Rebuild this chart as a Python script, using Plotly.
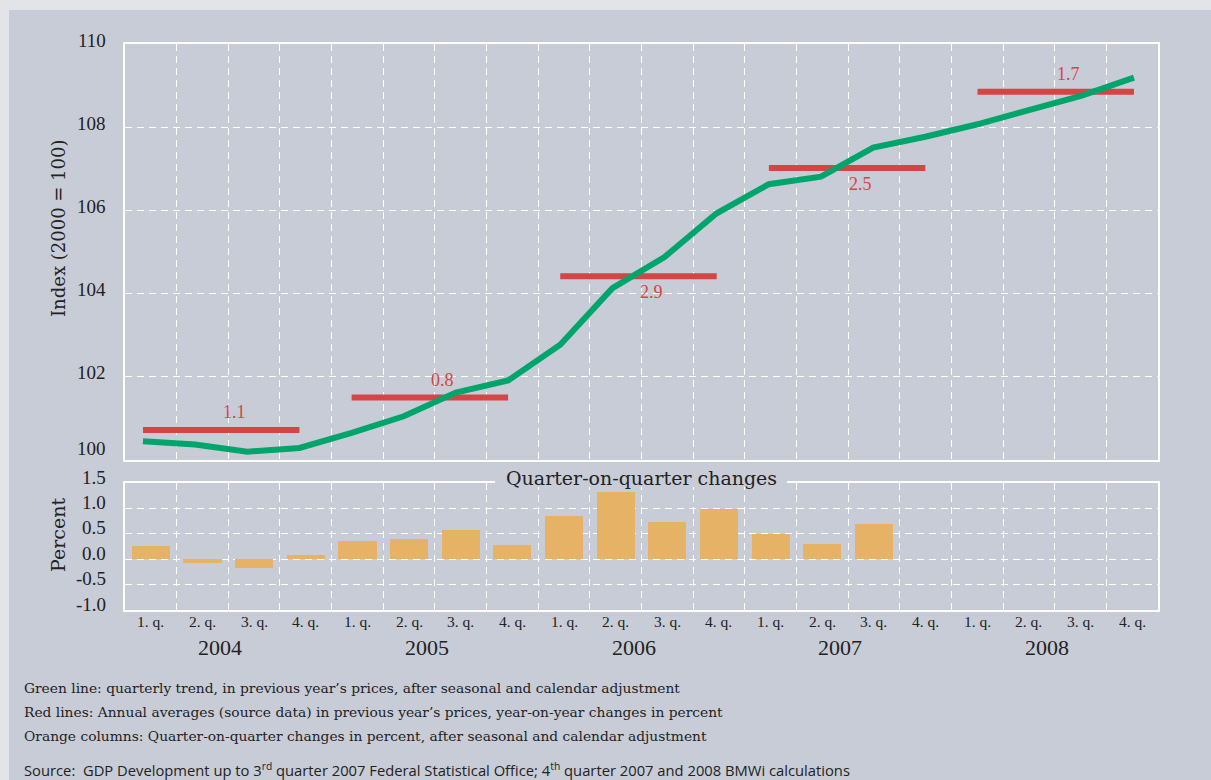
import plotly.graph_objects as go

# ---- data -------------------------------------------------------------
years = ["2004", "2005", "2006", "2007", "2008"]
quarters = ["1. q.", "2. q.", "3. q.", "4. q."]

# quarterly trend index (2000 = 100), 2004 Q1 .. 2008 Q4
trend_index = [100.45, 100.37, 100.20, 100.29,
               100.65, 101.05, 101.62, 101.91,
               102.77, 104.13, 104.88, 105.93,
               106.63, 106.81, 107.51, 107.77,
               108.07, 108.40, 108.76, 109.19]

# annual averages (index level) and year-on-year change labels
annual_avg_index = [100.72, 101.50, 104.42, 107.02, 108.85]
annual_change = ["1.1", "0.8", "2.9", "2.5", "1.7"]

# quarter-on-quarter changes in percent, 2004 Q1 .. 2007 Q3
qoq_change = [0.26, -0.08, -0.17, 0.08,
              0.36, 0.39, 0.57, 0.28,
              0.85, 1.32, 0.73, 0.99,
              0.49, 0.30, 0.69]

index_ticks = [100, 102, 104, 106, 108, 110]
pct_ticks = [-1.0, -0.5, 0.0, 0.5, 1.0, 1.5]
pct_tick_text = ["-1.0", "-0.5", "0.0", "0.5", "1.0", "1.5"]

footnotes = [
    "Green line: quarterly trend, in previous year’s prices, after seasonal and calendar adjustment",
    "Red lines: Annual averages (source data) in previous year’s prices, year-on-year changes in percent",
    "Orange columns: Quarter-on-quarter changes in percent, after seasonal and calendar adjustment",
]
source_note = ("Source:  GDP Development up to 3<sup>rd</sup> quarter 2007 Federal Statistical Office; "
               "4<sup>th</sup> quarter 2007 and 2008 BMWi calculations")

# ---- styling ----------------------------------------------------------
W, H = 1211, 780
PANEL = "#c8ccd7"
FRAME = "#e3e4e8"
GREEN = "#00a56b"
RED = "#d44546"
ORANGE = "#e6b266"
TEXT = "#222222"
SERIF = "Liberation Serif, DejaVu Serif, serif"
WIDE_SERIF = "DejaVu Serif, Liberation Serif, serif"
SANS = "Open Sans, DejaVu Sans, sans-serif"

n_q = len(years) * len(quarters)
q_pos = list(range(n_q))
bounds = [i + 0.5 for i in range(n_q - 1)]
x_dom = [125 / W, 1158 / W]
top_dom = [1 - 460 / H, 1 - 44 / H]
bot_dom = [1 - 610 / H, 1 - 483 / H]

fig = go.Figure()

# empty trace so the base top subplot (grid and frame) is created
fig.add_trace(go.Scatter(x=[None], y=[None], xaxis="x", yaxis="y",
                         showlegend=False, hoverinfo="skip"))

# annual average segments (one per year, 4 quarters wide)
for k, lvl in enumerate(annual_avg_index):
    fig.add_trace(go.Scatter(
        x=[4 * k, 4 * k + 3], y=[lvl, lvl], mode="lines",
        line=dict(color=RED, width=6), xaxis="x3", yaxis="y",
        hoverinfo="skip", showlegend=False))

# quarterly trend line
fig.add_trace(go.Scatter(
    x=q_pos, y=trend_index, mode="lines",
    line=dict(color=GREEN, width=6), xaxis="x3", yaxis="y",
    showlegend=False))

# quarter-on-quarter columns
fig.add_trace(go.Bar(
    x=q_pos[:len(qoq_change)], y=qoq_change, width=0.74,
    marker=dict(color=ORANGE, line=dict(width=0)),
    xaxis="x2", yaxis="y2", showlegend=False))

grid_dash = "7px,5px"
common_x = dict(
    domain=x_dom, range=[-0.5, n_q - 0.5], showgrid=False, zeroline=False,
    showline=True, linecolor="white", linewidth=2, mirror=True,
    showticklabels=False, ticks="",
    minor=dict(tickvals=bounds, showgrid=True, gridcolor="white",
               gridwidth=1, griddash=grid_dash, ticklen=0),
)
fig.update_layout(
    width=W, height=H,
    margin=dict(l=0, r=0, t=0, b=0),
    paper_bgcolor=PANEL, plot_bgcolor=PANEL,
    bargap=0,
    xaxis=dict(**common_x, anchor="y"),
    xaxis2=dict(**common_x, anchor="y2"),
    xaxis3=dict(overlaying="x", anchor="y", domain=x_dom,
                range=[-0.345, 19.461], visible=False),
    yaxis=dict(domain=top_dom, range=[100, 110], tickvals=index_ticks,
               showticklabels=False, ticks="", showgrid=True,
               gridcolor="white", gridwidth=1, griddash=grid_dash,
               zeroline=False, showline=True, linecolor="white",
               linewidth=2, mirror=True),
    yaxis2=dict(domain=bot_dom, range=[-1.0, 1.5], tickvals=pct_ticks,
                showticklabels=False, ticks="", showgrid=True,
                gridcolor="white", gridwidth=1, griddash=grid_dash,
                zeroline=False, showline=True, linecolor="white",
                linewidth=2, mirror=True),
)

ann = []
# y tick labels (drawn slightly raised above their grid lines)
for v in index_ticks:
    ann.append(dict(x=108 / W, xref="paper", y=v, yref="y", text=str(v),
                    xanchor="right", yanchor="middle", showarrow=False,
                    yshift=12 if v == index_ticks[0] else 4,
                    font=dict(family=SERIF, size=19, color=TEXT)))
for v, t in zip(pct_ticks, pct_tick_text):
    ann.append(dict(x=108 / W, xref="paper", y=v, yref="y2", text=t,
                    xanchor="right", yanchor="middle", showarrow=False,
                    yshift=6, font=dict(family=SERIF, size=19, color=TEXT)))

# quarter labels under the lower panel
for i in q_pos:
    ann.append(dict(x=i, xref="x2", y=1 - 621 / H, yref="paper",
                    text=quarters[i % len(quarters)], showarrow=False,
                    xanchor="center", yanchor="middle",
                    font=dict(family=SERIF, size=15.5, color=TEXT)))

# axis titles
ann.append(dict(x=58 / W, xref="paper", y=1 - 228 / H, yref="paper",
                text="Index (2000 = 100)", textangle=-90, showarrow=False,
                xanchor="center", yanchor="middle",
                font=dict(family=WIDE_SERIF, size=18, color=TEXT)))
ann.append(dict(x=58 / W, xref="paper", y=1 - 535 / H, yref="paper",
                text="Percent", textangle=-90, showarrow=False,
                xanchor="center", yanchor="middle",
                font=dict(family=WIDE_SERIF, size=19, color=TEXT)))

# year labels under each group of quarters
for k, yr in enumerate(years):
    ann.append(dict(x=4 * k + 1.5, xref="x2", y=1 - 647 / H, yref="paper",
                    text=yr, showarrow=False, xshift=-8,
                    xanchor="center", yanchor="middle",
                    font=dict(family=SERIF, size=22, color=TEXT)))

# annual change labels on the red segments
label_above = [True, True, False, False, True]
for k, (lvl, txt) in enumerate(zip(annual_avg_index, annual_change)):
    up = label_above[k]
    ann.append(dict(x=4 * k + 1.75, xref="x3", y=lvl, yref="y", text=txt,
                    showarrow=False, yshift=18 if up else -16,
                    xanchor="center", yanchor="middle",
                    font=dict(family=SERIF, size=18, color=RED)))

# lower panel heading
ann.append(dict(x=0.5 * (x_dom[0] + x_dom[1]), xref="paper", y=1 - 478 / H,
                yref="paper", text="Quarter-on-quarter changes",
                xanchor="center", yanchor="middle", showarrow=False,
                font=dict(family=WIDE_SERIF, size=19, color=TEXT)))

# footnotes
for i, line in enumerate(footnotes):
    ann.append(dict(x=22 / W, xref="paper", y=1 - (688 + 24 * i) / H,
                    yref="paper", text=line, xanchor="left",
                    yanchor="middle", showarrow=False,
                    font=dict(family=WIDE_SERIF, size=13.8, color=TEXT)))
ann.append(dict(x=22 / W, xref="paper", y=1 - 769 / H, yref="paper",
                text=source_note, xanchor="left", yanchor="middle",
                showarrow=False, font=dict(family=SANS, size=14.75, color=TEXT)))
fig.update_layout(annotations=ann)

# outer frame strips and the gap behind the lower panel heading
fig.update_layout(shapes=[
    dict(type="rect", xref="paper", yref="paper", x0=0, x1=1,
         y0=1 - 10 / H, y1=1, fillcolor=FRAME, line=dict(width=0),
         layer="above"),
    dict(type="rect", xref="paper", yref="paper", x0=0, x1=9 / W,
         y0=0, y1=1, fillcolor=FRAME, line=dict(width=0), layer="above"),
    dict(type="rect", xref="paper", yref="paper", x0=495 / W, x1=787 / W,
         y0=1 - 487 / H, y1=1 - 479 / H, fillcolor=PANEL,
         line=dict(width=0), layer="above"),
])

fig.write_html("out.html")
